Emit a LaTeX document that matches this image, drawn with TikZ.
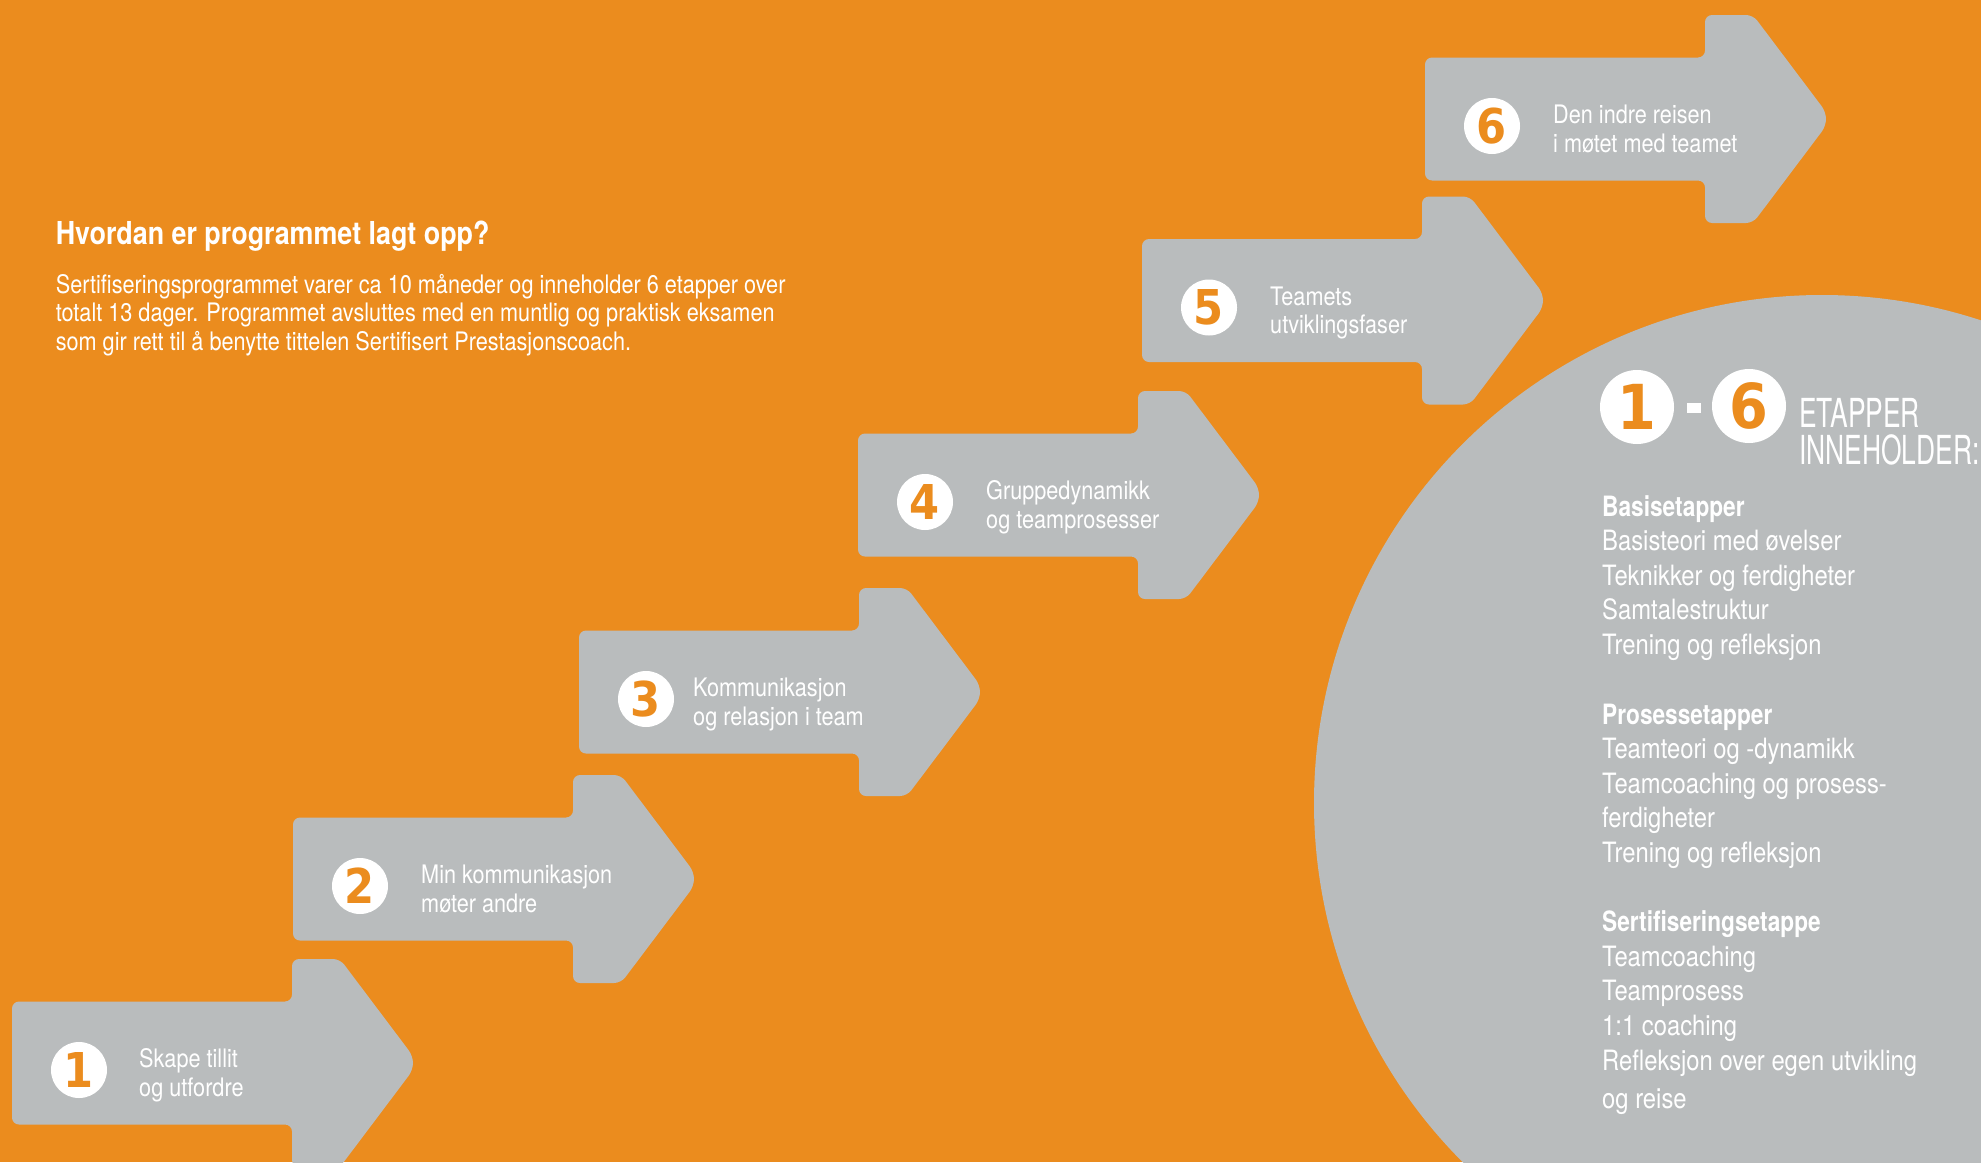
\documentclass[tikz,border=0pt]{standalone}
\usepackage{fontspec}
\setmainfont{TeX Gyre Heros}[FakeStretch=0.85]
\newfontfamily\capsfont{TeX Gyre Heros}[FakeStretch=0.66]
\newfontfamily\headfont{TeX Gyre Heros}[FakeStretch=0.81]
\newfontfamily\digitfont{DejaVu Sans}[FakeStretch=0.9]
\definecolor{bgorange}{RGB}{235,140,30}
\definecolor{stagegrey}{RGB}{185,188,189}
\tikzset{
  stagetext/.style={anchor=base west, inner sep=0pt, text=white, font=\fontsize{25.5}{28.5}\selectfont},
  listtext/.style={anchor=base west, inner sep=0pt, text=white, font=\fontsize{28}{34.6}\selectfont},
  listhead/.style={listtext, font=\headfont\bfseries\fontsize{28}{34.6}\selectfont},
  captext/.style={anchor=base west, inner sep=0pt, text=white, font=\capsfont\fontsize{40}{40}\selectfont},
  numdisc/.style={circle, fill=white, inner sep=0pt, minimum size=56pt, text=bgorange, font=\digitfont\bfseries\fontsize{48}{48}\selectfont},
  bignumdisc/.style={circle, fill=white, inner sep=0pt, minimum size=74pt, text=bgorange, font=\digitfont\bfseries\fontsize{62}{62}\selectfont},
  arrowshape/.style={fill=stagegrey, rounded corners=7pt},
}
\newcommand\stagearrow[7]{%
  \fill[arrowshape] ({#2},{#3-61.5}) -- ({#2+280},{#3-61.5}) -- ({#2+280},{#3-104})
    -- ({#2+328},{#3-104}) -- ({#2+401},{#3-7}) -- ({#2+401},{#3+7})
    -- ({#2+328},{#3+104}) -- ({#2+280},{#3+104}) -- ({#2+280},{#3+61.5})
    -- ({#2},{#3+61.5}) -- cycle;
  \node[numdisc] (#1num) at ({#2+67},{#3+7}) {#4};
  \node[stagetext] (#1a) at ({#2+#5},{#3+4.5}) {#6};
  \node[stagetext] (#1b) at ({#2+#5},{#3+33}) {#7};
}
\begin{document}
\begin{tikzpicture}[x=1pt,y=-1pt]
\useasboundingbox (0,0) rectangle (1981,1162);
\begin{scope}
\clip (0,0) rectangle (1981,1162);
\fill[bgorange] (0,0) rectangle (1981,1162);
\fill[stagegrey] (1822,803) circle[radius=508];
\stagearrow{s1}{12}{1063}{1}{127}{Skape tillit}{og utfordre}
\stagearrow{s2}{293}{879}{2}{128}{Min kommunikasjon}{møter andre}
\stagearrow{s3}{579}{692}{3}{114}{Kommunikasjon}{og relasjon i team}
\stagearrow{s4}{858}{495}{4}{128}{Gruppedynamikk}{og teamprosesser}
\stagearrow{s5}{1142}{300.5}{5}{128}{Teamets}{utviklingsfaser}
\stagearrow{s6}{1425}{119}{6}{128}{Den indre reisen}{i møtet med teamet}
\end{scope}

% intro text
\node[anchor=base west, inner sep=0pt, text=white, font=\bfseries\fontsize{31.6}{36}\selectfont] (title) at (55.6,244) {Hvordan er programmet lagt opp?};
\node[stagetext] (intro1) at (55.6,293) {Sertifiseringsprogrammet varer ca 10 måneder og inneholder 6 etapper over};
\node[stagetext] (intro2) at (55.6,321.5) {totalt 13 dager. Programmet avsluttes med en muntlig og praktisk eksamen};
\node[stagetext] (intro3) at (55.6,350) {som gir rett til å benytte tittelen Sertifisert Prestasjonscoach.};

% 1 - 6 etapper
\node[bignumdisc] (bigone) at (1637,407) {1};
\node[fill=white, inner sep=0pt, minimum width=14pt, minimum height=10pt] (dash) at (1694,408) {};
\node[bignumdisc] (bigsix) at (1749,406) {6};
\node[captext] (etapper) at (1799,427) {ETAPPER};
\node[captext] (inneholder) at (1799,464) {INNEHOLDER:};

% list
\node[listhead] (h1) at (1602,516) {Basisetapper};
\node[listtext] (l1) at (1602,550.6) {Basisteori med øvelser};
\node[listtext] (l2) at (1602,585.2) {Teknikker og ferdigheter};
\node[listtext] (l3) at (1602,619.8) {Samtalestruktur};
\node[listtext] (l4) at (1602,654.4) {Trening og refleksjon};
\node[listhead] (h2) at (1602,724) {Prosessetapper};
\node[listtext] (l5) at (1602,758.6) {Teamteori og -dynamikk};
\node[listtext] (l6) at (1602,793.2) {Teamcoaching og prosess-};
\node[listtext] (l7) at (1602,827.8) {ferdigheter};
\node[listtext] (l8) at (1602,862.4) {Trening og refleksjon};
\node[listhead] (h3) at (1602,931.6) {Sertifiseringsetappe};
\node[listtext] (l9) at (1602,966.2) {Teamcoaching};
\node[listtext] (l10) at (1602,1000.8) {Teamprosess};
\node[listtext] (l11) at (1602,1035.4) {1:1 coaching};
\node[listtext] (l12) at (1602,1070) {Refleksjon over egen utvikling};
\node[listtext] (l13) at (1602,1108) {og reise};
\end{tikzpicture}
\end{document}
